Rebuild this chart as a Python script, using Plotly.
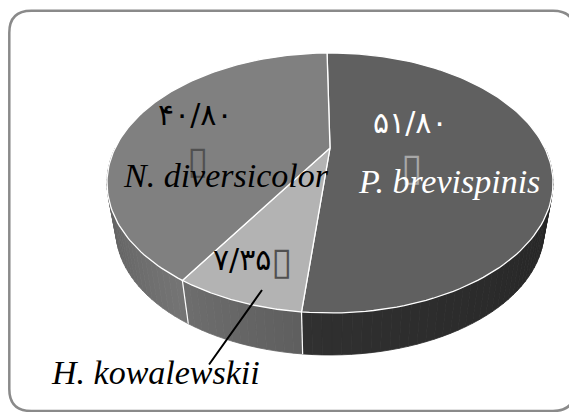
import numpy as np
import plotly.graph_objects as go

# ---- data ----
species = ["P. brevispinis", "H. kowalewskii", "N. diversicolor"]
values = [51.80, 7.35, 40.80]
value_labels = ["۵۱/۸۰", "۷/۳۵", "۴۰/۸۰"]

# ---- styling / geometry (page-pixel space) ----
W, H = 577, 412
OFF = 8                    # default page body margin
CX, CY = 330, 148          # apex of the pie on the top face
R, RY, K = 214.8, 120.6, 0.269   # perspective ellipse
S_BOT, DY_BOT = 0.96, 48.6       # bottom face scale / drop
START = 91.0                     # start angle (deg), clockwise

top_colors = ["#606060", "#b3b3b3", "#808080"]
side_levels = [(48, 36), (110, 94), (88, 116)]


def proj(theta_deg, bottom=False):
    t = np.radians(theta_deg)
    X, Y = np.cos(t), np.sin(t)
    w = 1 + K * Y
    u, v = X / w, Y / w
    if bottom:
        return CX + S_BOT * R * u, CY + DY_BOT - S_BOT * RY * v
    return CX + R * u, CY - RY * v


total = float(sum(values))
bounds = [START]
for v in values:
    bounds.append(bounds[-1] - 360.0 * v / total)

fig = go.Figure()

# ---- sides (visible near half) ----
for i in range(len(values)):
    hi_a, lo_a = bounds[i], bounds[i + 1]
    for shift in (-360, 0, 360):
        lo = max(lo_a + shift, -180.0)
        hi = min(hi_a + shift, 0.0)
        if hi <= lo:
            continue
        n = int(np.ceil((hi - lo) / 2.0))
        edges = np.linspace(lo, hi, n + 1)
        l0, l1 = side_levels[i]
        for j in range(n):
            a, b = edges[j], edges[j + 1]
            f = ((a + b) / 2 - lo) / (hi - lo)
            g = int(round(l0 + (l1 - l0) * f))
            col = f"rgb({g},{g},{g})"
            ta, tb = proj(a), proj(b)
            ba, bb = proj(a, True), proj(b, True)
            xs = [ta[0], tb[0], bb[0], ba[0], ta[0]]
            ys = [ta[1], tb[1], bb[1], ba[1], ta[1]]
            fig.add_trace(go.Scatter(x=xs, y=ys, mode="lines", fill="toself",
                                     fillcolor=col, line=dict(color=col, width=0.8),
                                     hoverinfo="skip", showlegend=False))

for bnd in bounds[1:-1]:
    for shift in (-360, 0, 360):
        a = bnd + shift
        if -180 < a < 0:
            t, b = proj(a), proj(a, True)
            fig.add_trace(go.Scatter(x=[t[0], b[0]], y=[t[1], b[1]], mode="lines",
                                     line=dict(color="white", width=1.2),
                                     hoverinfo="skip", showlegend=False))

# ---- top face ----
for i in range(len(values)):
    a0, a1 = bounds[i], bounds[i + 1]
    th = np.linspace(a0, a1, 120)
    px, py = proj(th)
    xs = [CX] + list(px) + [CX]
    ys = [CY] + list(py) + [CY]
    fig.add_trace(go.Scatter(x=xs, y=ys, mode="lines", fill="toself",
                             fillcolor=top_colors[i], line=dict(color="white", width=1.3),
                             name=species[i], hoverinfo="skip", showlegend=False))

SERIF = "Liberation Serif"
DIG = "DejaVu Sans"
DSZ = 30
BSZ = 38
NSZ = 34


def it(s):
    return f"<i>{s}</i>"


annotations = [
    dict(x=410, y=122, text=value_labels[0], font=dict(family=DIG, size=DSZ, color="white")),
    dict(x=411, y=167, text="▯", font=dict(family=DIG, size=BSZ, color="#a8a8a8")),
    dict(x=449, y=181, text=it(species[0]), font=dict(family=SERIF, size=NSZ, color="white")),
    dict(x=195, y=114, text=value_labels[2], font=dict(family=DIG, size=DSZ, color="black")),
    dict(x=197, y=160, text="▯", font=dict(family=DIG, size=BSZ, color="#505050")),
    dict(x=226, y=175, text=it(species[2]), font=dict(family=SERIF, size=NSZ, color="black")),
    dict(x=242, y=259, text=value_labels[1], font=dict(family=DIG, size=DSZ, color="black")),
    dict(x=281, y=261, text="▯", font=dict(family=DIG, size=BSZ, color="#505050")),
    dict(x=155, y=372, text=it(species[1]), font=dict(family=SERIF, size=NSZ, color="black")),
]
for a in annotations:
    a.update(xref="x", yref="y", showarrow=False, xanchor="center", yanchor="middle")

annotations.append(dict(x=262, y=290, ax=208, ay=366, xref="x", yref="y", axref="x", ayref="y",
                        text="", showarrow=True, arrowhead=0, arrowwidth=2, arrowcolor="black"))

x0, y0, x1, y1, r = 9.3, 10.8, 575, 411, 22
frame = (f"M {x0+r},{y0} L {x1-r},{y0} Q {x1},{y0} {x1},{y0+r} L {x1},{y1-r} "
         f"Q {x1},{y1} {x1-r},{y1} L {x0+r},{y1} Q {x0},{y1} {x0},{y1-r} "
         f"L {x0},{y0+r} Q {x0},{y0} {x0+r},{y0} Z")

# figure sits at the page's 8px body margin; axes map data units to page pixels
fig.update_layout(
    width=W - OFF, height=H - OFF,
    margin=dict(l=0, r=0, t=0, b=0),
    paper_bgcolor="white", plot_bgcolor="white",
    xaxis=dict(range=[OFF, W], visible=False, fixedrange=True),
    yaxis=dict(range=[H, OFF], visible=False, fixedrange=True),
    annotations=annotations,
    shapes=[dict(type="path", path=frame, xref="x", yref="y",
                 line=dict(color="#8a8a8a", width=2.5), layer="below")],
    showlegend=False,
)

fig.write_html("out.html")
